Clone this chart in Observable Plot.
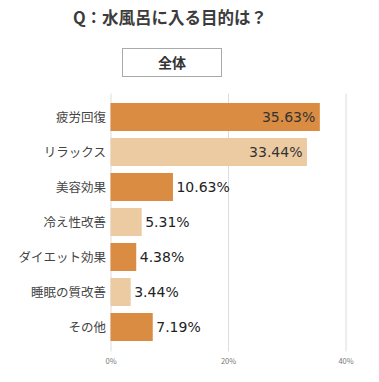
<!DOCTYPE html>
<html>
<head>
<meta charset="utf-8">
<script src="https://cdn.jsdelivr.net/npm/d3@7"></script>
<script src="https://cdn.jsdelivr.net/npm/@observablehq/plot@0.6"></script>
<style>
  html, body { margin: 0; padding: 0; background: #fff; }
  #wrap { position: relative; width: 379px; height: 382px; overflow: hidden; font-family: "Noto Sans CJK JP", sans-serif; }
  #head { position: relative; width: 379px; height: 88px; }
  #title { position: absolute; left: 0; width: 340px; top: 5px; text-align: center; font-size: 16.5px; font-weight: bold; color: #3c3c3c; }
  #box { position: absolute; left: 122px; top: 48px; width: 98px; height: 27px; border: 1px solid #aaa; box-sizing: content-box; text-align: center; line-height: 27px; font-size: 14px; font-weight: bold; color: #333; }
  #chart svg { display: block; }
</style>
</head>
<body>
<div id="wrap">
  <div id="head">
    <div id="title">Q：水風呂に入る目的は？</div>
    <div id="box">全体</div>
  </div>
  <div id="chart"></div>
</div>
<script>
const categories = ["疲労回復", "リラックス", "美容効果", "冷え性改善", "ダイエット効果", "睡眠の質改善", "その他"];
const values = [35.63, 33.44, 10.63, 5.31, 4.38, 3.44, 7.19];
const shades = ["dark", "light", "dark", "light", "dark", "light", "dark"];
const insideLabel = [true, true, false, false, false, false, false];
const xTicks = [0, 20, 40];

const data = categories.map((c, i) => ({cat: c, v: values[i], shade: shades[i], inside: insideLabel[i]}));

const chart = Plot.plot({
  width: 379,
  height: 294,
  marginLeft: 110.5,
  marginRight: 33.5,
  marginTop: 5.6,
  marginBottom: 30.6,
  style: {fontFamily: "'Noto Sans CJK JP', sans-serif", background: "#fff"},
  x: {domain: [0, 40], label: null},
  y: {domain: categories, padding: 0.2, label: null},
  color: {domain: ["dark", "light"], range: ["#D98C42", "#ECCBA3"]},
  marks: [
    Plot.ruleX(xTicks, {stroke: "#dcdcdc", strokeWidth: 1}),
    Plot.barX(data, {y: "cat", x: "v", fill: "shade"}),
    Plot.text(data.filter(d => d.inside), {y: "cat", x: "v", text: d => d.v.toFixed(2) + "%", textAnchor: "end", dx: -5, fontSize: 14, fill: "#333", fontFamily: "'DejaVu Sans', sans-serif"}),
    Plot.text(data.filter(d => !d.inside), {y: "cat", x: "v", text: d => d.v.toFixed(2) + "%", textAnchor: "start", dx: 3, fontSize: 14, fill: "#222", fontFamily: "'DejaVu Sans', sans-serif"}),
    Plot.axisY({tickSize: 0, tickPadding: 5, fontSize: 12.5, fill: "#444", label: null}),
    Plot.axisX({ticks: xTicks, tickSize: 0, tickPadding: 7, fontSize: 7.5, fill: "#777", tickFormat: d => d + "%", label: null})
  ]
});
document.getElementById("chart").appendChild(chart);
</script>
</body>
</html>
